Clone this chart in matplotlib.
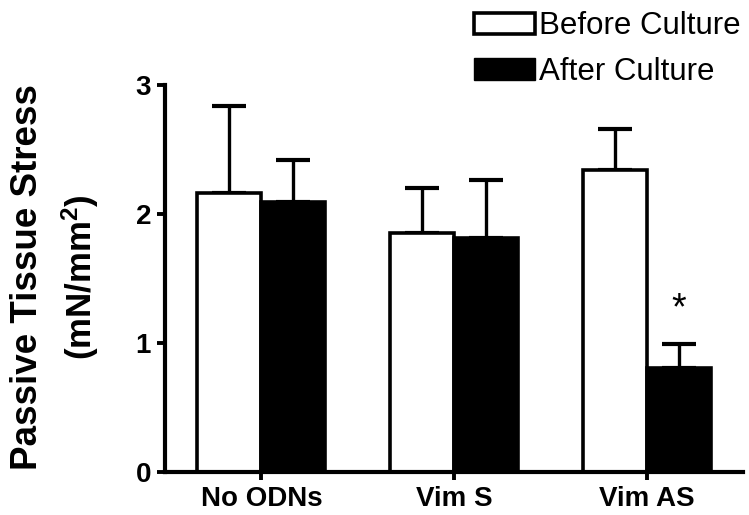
import numpy as np
import matplotlib.pyplot as plt
from matplotlib.patches import Patch

plt.rcParams['font.family'] = ['Liberation Sans', 'DejaVu Sans']
plt.rcParams['mathtext.default'] = 'regular'

groups = ['No ODNs', 'Vim S', 'Vim AS']
before = [2.16, 1.85, 2.34]
before_err = [0.68, 0.35, 0.32]
after = [2.09, 1.81, 0.81]
after_err = [0.33, 0.45, 0.18]
series_names = ['Before Culture', 'After Culture']
yticks = [0, 1, 2, 3]

fig = plt.figure(figsize=(7.49, 5.15), dpi=100)
ax = fig.add_axes([0.2203, 0.0835, 0.7717, 0.7515])

x = np.arange(len(groups))
w = 0.333
ax.bar(x - w / 2, before, w, color='white', edgecolor='black', linewidth=2.6, zorder=2)
ax.bar(x + w / 2, after, w, color='black', edgecolor='black', linewidth=2.6, zorder=2)
ax.errorbar(x - w / 2, before, yerr=[np.zeros(3), before_err], fmt='none',
            ecolor='black', elinewidth=2.4, capsize=12, capthick=3, zorder=1)
ax.errorbar(x + w / 2, after, yerr=[np.zeros(3), after_err], fmt='none',
            ecolor='black', elinewidth=2.4, capsize=12, capthick=3, zorder=1)

# significance mark over Vim AS after culture
ax.text(x[2] + w / 2, after[2] + after_err[2] + 0.27, '*', ha='center', va='center',
        fontsize=27)

ax.set_xlim(-0.5, 2.5)
ax.set_ylim(0, 3)
ax.set_xticks(x)
ax.set_xticklabels(groups, fontsize=20, fontweight='bold')
ax.set_yticks(yticks)
ax.set_yticklabels([str(t) for t in yticks], fontsize=20, fontweight='bold')
ax.tick_params(axis='both', length=6, width=2.8, pad=4)
for s in ['top', 'right']:
    ax.spines[s].set_visible(False)
for s in ['left', 'bottom']:
    ax.spines[s].set_linewidth(3)

fig.text(0.037, 0.462, 'Passive Tissue Stress', rotation=90, ha='center', va='center',
         fontsize=26.5, fontweight='bold')
fig.text(0.107, 0.462, '(mN/mm$^2$)', rotation=90, ha='center', va='center',
         fontsize=25, fontweight='bold')

handles = [Patch(facecolor='white', edgecolor='black', linewidth=2.6),
           Patch(facecolor='black', edgecolor='black')]
fig.legend(handles, series_names, loc='upper right', bbox_to_anchor=(0.997, 0.99),
           frameon=False, fontsize=22.5, handlelength=1.95, handleheight=0.7,
           handletextpad=0.12, labelspacing=0.5, borderaxespad=0.1, borderpad=0.1)

fig.savefig('out.png', dpi=100)
